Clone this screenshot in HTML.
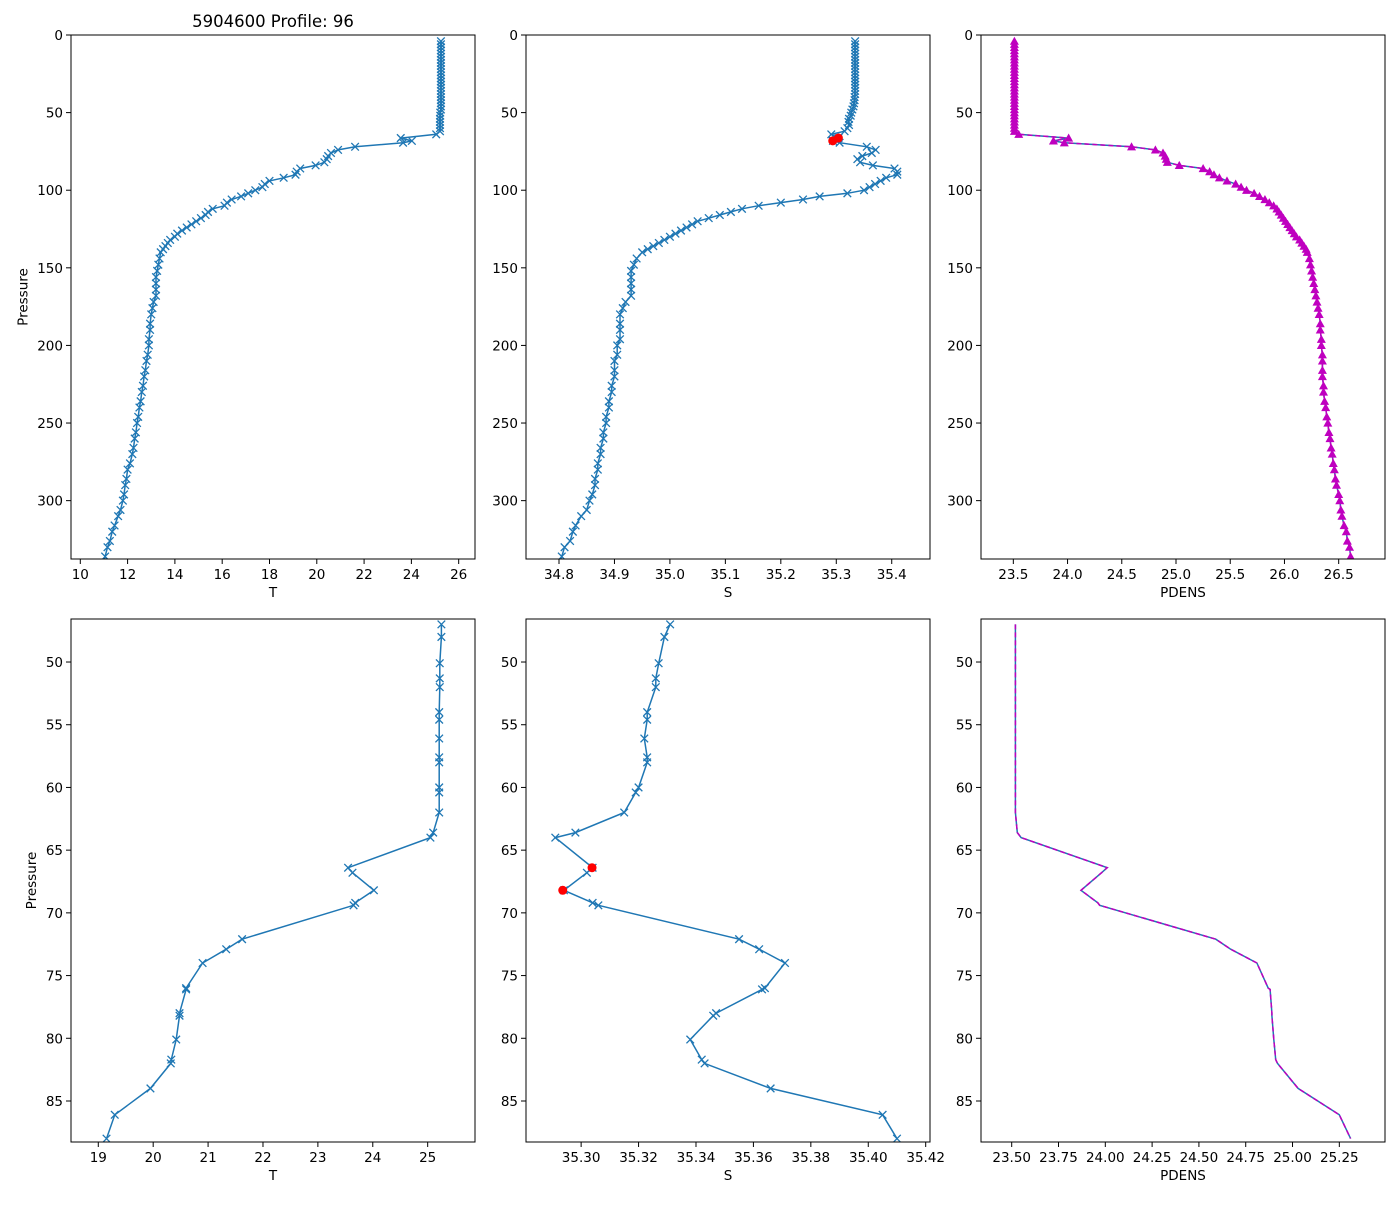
<!DOCTYPE html>
<html><head><meta charset="utf-8"><style>
html,body{margin:0;padding:0;background:#fff;}
svg text{font-family:"DejaVu Sans","Liberation Sans",sans-serif;font-size:13.5px;fill:#000;}
</style></head><body>
<svg id="fig" width="1400" height="1200" viewBox="0 0 1400 1200" xmlns="http://www.w3.org/2000/svg">
<rect width="1400" height="1200" fill="#fff"/>
<text x="273" y="27" text-anchor="middle" style="font-size:16.5px">5904600 Profile: 96</text>
</svg>
<script>
const topP=[4,6,8,10,12,14,16,18,20,22,24,26,28,30,32,34,36,38,40,42,44,46,48,50,52,54,56,58,60,62,
64,66.4,68.2,69.4,72,74,76,78,80,82,84,86,88,
90,92,94,96,98,100,102,104,106,108,110,112,114,116,118,120,122,124,126,128,130,132,134,136,138,140,
144,148,152,156,160,164,168,172,176,180,
186,190,196,200,206,210,216,220,226,230,236,240,246,250,256,260,266,270,276,280,286,290,296,300,306,310,316,320,326,330,336,340];
const topT=[25.25,25.25,25.25,25.25,25.25,25.25,25.25,25.25,25.25,25.25,25.25,25.25,25.25,25.25,25.25,25.25,25.25,25.25,25.25,25.25,25.25,25.25,25.25,25.22,25.22,25.21,25.21,25.21,25.21,25.21,
25.05,23.55,24.02,23.65,21.62,20.9,20.6,20.48,20.42,20.32,19.95,19.3,19.15,
19.1,18.6,18.0,17.8,17.7,17.4,17.1,16.8,16.4,16.2,16.1,15.6,15.4,15.3,15.1,14.9,14.7,14.5,14.3,14.1,14.0,13.8,13.7,13.6,13.5,13.4,
13.35,13.3,13.25,13.2,13.2,13.2,13.2,13.1,13.05,13.0,
12.95,12.95,12.9,12.9,12.85,12.8,12.75,12.7,12.65,12.6,12.55,12.5,12.45,12.4,12.35,12.3,12.25,12.2,12.1,12.0,11.95,11.9,11.85,11.8,11.7,11.6,11.45,11.35,11.25,11.15,11.05,11.0];
const topS=[35.334,35.334,35.334,35.334,35.334,35.334,35.334,35.334,35.334,35.334,35.334,35.334,35.334,35.334,35.334,35.334,35.334,35.334,35.333,35.333,35.332,35.331,35.329,35.327,35.326,35.323,35.322,35.323,35.320,35.315,
35.291,35.304,35.294,35.306,35.355,35.371,35.364,35.347,35.338,35.343,35.366,35.405,35.41,
35.41,35.39,35.38,35.37,35.36,35.35,35.32,35.27,35.24,35.2,35.16,35.13,35.11,35.09,35.07,35.05,35.04,35.03,35.02,35.01,35.0,34.99,34.98,34.97,34.96,34.95,
34.94,34.935,34.93,34.93,34.93,34.93,34.93,34.92,34.915,34.91,
34.91,34.91,34.91,34.905,34.905,34.9,34.9,34.9,34.895,34.895,34.89,34.89,34.885,34.885,34.88,34.88,34.875,34.875,34.87,34.87,34.865,34.865,34.86,34.855,34.85,34.84,34.83,34.825,34.82,34.81,34.805,34.80];
const topD=[23.51,23.51,23.51,23.51,23.51,23.51,23.51,23.51,23.51,23.51,23.51,23.51,23.51,23.51,23.51,23.51,23.51,23.51,23.51,23.51,23.51,23.51,23.51,23.51,23.51,23.51,23.51,23.51,23.51,23.51,
23.55,24.01,23.87,23.97,24.59,24.81,24.88,24.9,24.91,24.92,25.03,25.25,25.31,
25.35,25.4,25.47,25.55,25.6,25.65,25.72,25.77,25.82,25.86,25.9,25.93,25.95,25.97,25.99,26.01,26.03,26.05,26.07,26.09,26.11,26.14,26.16,26.18,26.2,26.21,
26.23,26.24,26.25,26.26,26.27,26.28,26.29,26.3,26.31,26.32,
26.33,26.33,26.34,26.34,26.35,26.35,26.35,26.35,26.36,26.36,26.37,26.38,26.39,26.40,26.41,26.42,26.43,26.44,26.45,26.46,26.47,26.48,26.50,26.51,26.52,26.53,26.55,26.57,26.58,26.60,26.61,26.62];
const botP=[47,48,50.1,51.3,52,54,54.6,56.1,57.6,58,60,60.4,62,63.6,64,66.4,66.8,68.2,69.2,69.4,72.1,72.9,74,76,76.1,78,78.2,80.1,81.7,82,84,86.1,88];
const botT=[25.25,25.25,25.22,25.22,25.22,25.21,25.21,25.21,25.21,25.21,25.21,25.21,25.21,25.1,25.05,23.55,23.63,24.02,23.68,23.65,21.62,21.33,20.9,20.6,20.6,20.48,20.48,20.42,20.33,20.32,19.95,19.3,19.15];
const botS=[35.331,35.329,35.327,35.326,35.326,35.323,35.323,35.322,35.323,35.323,35.320,35.319,35.315,35.298,35.291,35.304,35.302,35.294,35.304,35.306,35.355,35.362,35.371,35.364,35.363,35.347,35.346,35.338,35.342,35.343,35.366,35.405,35.410];
const botD=[23.52,23.52,23.52,23.52,23.52,23.52,23.52,23.52,23.52,23.52,23.52,23.52,23.52,23.53,23.55,24.01,23.98,23.87,23.96,23.97,24.59,24.67,24.81,24.87,24.88,24.89,24.89,24.9,24.91,24.92,25.03,25.25,25.31];
const flagP=[66.4,68.2];
const flagS=[35.3038,35.2936];
const topYTicks=[0,50,100,150,200,250,300];
const botYTicks=[50,55,60,65,70,75,80,85];
const tTTicks=[10,12,14,16,18,20,22,24,26];
const tSTicks=[34.8,34.9,35.0,35.1,35.2,35.3,35.4];
const tDTicks=[23.5,24.0,24.5,25.0,25.5,26.0,26.5];
const bTTicks=[19,20,21,22,23,24,25];
const bSTicks=[35.30,35.32,35.34,35.36,35.38,35.40,35.42];
const bDTicks=[23.50,23.75,24.00,24.25,24.50,24.75,25.00,25.25];

const NS='http://www.w3.org/2000/svg';
const svg=document.getElementById('fig');
function mk(tag,attrs,parent){const e=document.createElementNS(NS,tag);for(const k in attrs)e.setAttribute(k,attrs[k]);(parent||svg).appendChild(e);return e;}
let clipN=0;
function panel(name,box,xr,yr,xTicks,xDec,yTicks,xlabel,ylabel,series){
  const [L,T,R,B]=box;
  const xs=v=>L+(v-xr[0])/(xr[1]-xr[0])*(R-L);
  const ys=v=>T+(v-yr[0])/(yr[1]-yr[0])*(B-T);
  const g=mk('g',{});
  
  
  const cid='c'+(clipN++);
  const cp=mk('clipPath',{id:cid},g);mk('rect',{x:L,y:T,width:R-L,height:B-T},cp);
  const dg=mk('g',{'clip-path':'url(#'+cid+')'},g);
  series(dg,xs,ys);
  mk('rect',{x:L,y:T,width:R-L,height:B-T,fill:'none',stroke:'#000','stroke-width':1},g);
  xTicks.forEach(v=>{const x=xs(v);mk('line',{x1:x,x2:x,y1:B,y2:B+5,stroke:'#000'},g);
    const t=mk('text',{x:x,y:B+20,'text-anchor':'middle'},g);t.textContent=v.toFixed(xDec);
    
    });
  yTicks.forEach(v=>{const y=ys(v);mk('line',{x1:L-5,x2:L,y1:y,y2:y,stroke:'#000'},g);
    const t=mk('text',{x:L-8,y:y+5,'text-anchor':'end'},g);t.textContent=String(v);
    
    });
  const xl=mk('text',{x:(L+R)/2,y:B+38,'text-anchor':'middle'},g);xl.textContent=xlabel;
  
  
  if(ylabel){const yx=L-(String(yTicks[yTicks.length-1]).length*8.5+18);
    const yl=mk('text',{x:yx,y:(T+B)/2,'text-anchor':'middle',transform:`rotate(-90 ${yx} ${(T+B)/2})`},g);yl.textContent=ylabel;
    
    }
}
function line(g,xs,ys,X,P,color,dash){const d=X.map((v,i)=>(i?'L':'M')+xs(v).toFixed(1)+','+ys(P[i]).toFixed(1)).join('');
  const p=mk('path',{d:d,fill:'none',stroke:color,'stroke-width':1.5},g);if(dash)p.setAttribute('stroke-dasharray',dash);
  
  }
function xmarks(g,xs,ys,X,P){X.forEach((v,i)=>{const x=xs(v),y=ys(P[i]),s=3.8;
  const p=mk('path',{d:`M${x-s},${y-s}L${x+s},${y+s}M${x-s},${y+s}L${x+s},${y-s}`,stroke:'#1f77b4','stroke-width':1.3},g);
  
  });}
function tris(g,xs,ys,X,P){X.forEach((v,i)=>{const x=xs(v),y=ys(P[i]),s=4.5;
  const p=mk('path',{d:`M${x},${y-s}L${x+s},${y+s*0.8}L${x-s},${y+s*0.8}Z`,fill:'#bf00bf'},g);
  
  });}
function dots(g,xs,ys,X,P){X.forEach((v,i)=>{const c=mk('circle',{cx:xs(v),cy:ys(P[i]),r:4.5,fill:'#ff0000'},g);
  
  });}

const TY=[0,337.6], BY=[46.57,88.27];
panel('panel-temperature-full',[71,35,475,559],[9.607,26.69],TY,tTTicks,0,topYTicks,'T','Pressure',(g,xs,ys)=>{line(g,xs,ys,topT,topP,'#1f77b4');xmarks(g,xs,ys,topT,topP);});
panel('panel-salinity-full',[526,35,930,559],[34.7405,35.469],TY,tSTicks,1,topYTicks,'S',null,(g,xs,ys)=>{line(g,xs,ys,topS,topP,'#1f77b4');xmarks(g,xs,ys,topS,topP);dots(g,xs,ys,flagS,flagP);});
panel('panel-density-full',[981,35,1385,559],[23.202,26.927],TY,tDTicks,1,topYTicks,'PDENS',null,(g,xs,ys)=>{line(g,xs,ys,topD,topP,'#1f77b4');line(g,xs,ys,topD,topP,'#bf00bf','5,3');tris(g,xs,ys,topD,topP);});
panel('panel-temperature-zoom',[71,619,475,1142],[18.503,25.862],BY,bTTicks,0,botYTicks,'T','Pressure',(g,xs,ys)=>{line(g,xs,ys,botT,botP,'#1f77b4');xmarks(g,xs,ys,botT,botP);});
panel('panel-salinity-zoom',[526,619,930,1142],[35.2808,35.4215],BY,bSTicks,2,botYTicks,'S',null,(g,xs,ys)=>{line(g,xs,ys,botS,botP,'#1f77b4');xmarks(g,xs,ys,botS,botP);dots(g,xs,ys,flagS,flagP);});
panel('panel-density-zoom',[981,619,1385,1142],[23.336,25.494],BY,bDTicks,2,botYTicks,'PDENS',null,(g,xs,ys)=>{line(g,xs,ys,botD,botP,'#1f77b4');line(g,xs,ys,botD,botP,'#bf00bf','5,3');});
</script>
</body></html>
